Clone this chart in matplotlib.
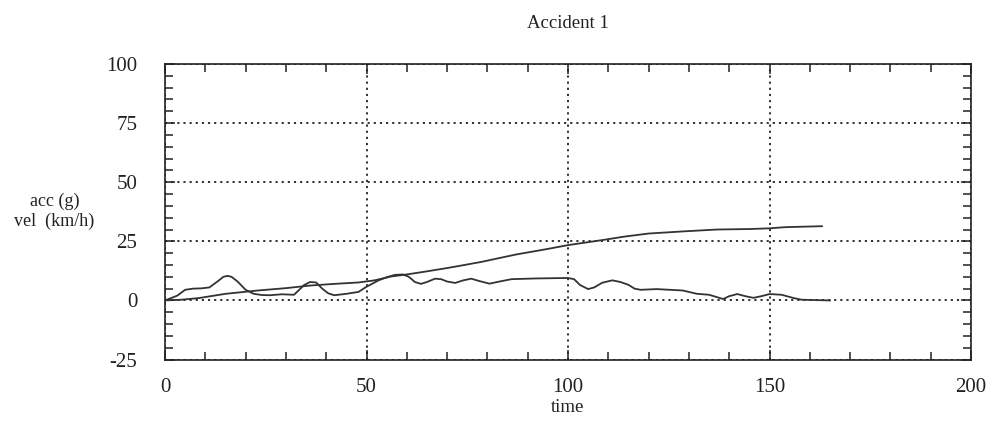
import matplotlib
matplotlib.use("Agg")
import matplotlib.pyplot as plt
from matplotlib.ticker import MultipleLocator

# values
acc_t = [0, 3, 5, 7, 9, 11, 13, 14.5, 15.5, 16.5, 18, 20, 22, 24, 26, 29, 32, 33, 34.5,
         36, 37.5, 39, 40.5, 42, 45, 48, 50, 53, 55, 57, 59, 60.5, 62, 63.5, 65, 67,
         68.5, 70, 72, 74, 76, 78, 80.5, 83, 86, 92, 100, 101.5, 103, 105, 106.5, 108.5,
         111, 113, 115, 116.5, 118, 122, 128.5, 132, 135, 138.5, 140, 142, 144, 146,
         148, 150, 153, 156, 158, 165]
acc_g = [0, 2, 4.5, 5, 5.1, 5.5, 8, 10, 10.4, 10, 8, 4.5, 2.8, 2.3, 2.2, 2.6, 2.4, 4,
         6.5, 7.8, 7.6, 5, 3, 2.2, 2.8, 3.6, 5.8, 8.5, 9.8, 10.8, 11, 10, 7.8, 7, 7.8,
         9.2, 9, 8, 7.4, 8.5, 9.2, 8.2, 7.1, 8, 9, 9.3, 9.5, 9, 6.5, 4.8, 5.5, 7.5, 8.5,
         7.8, 6.6, 5, 4.5, 4.8, 4.2, 2.8, 2.4, 0.6, 1.8, 2.7, 1.8, 1.1, 1.8, 2.7, 2.4,
         1, 0.3, 0]

vel_t = [0, 4, 8.4, 15, 23, 30, 36, 42, 48, 52, 56, 60, 64.6, 70, 73, 78.5, 87, 95, 100,
         108, 114, 120, 128.6, 137, 145, 150, 154, 163]
vel_kmh = [0, 0.3, 1, 2.8, 4.2, 5.2, 6.3, 7, 7.6, 8.5, 10.1, 11, 12.2, 13.7, 14.6, 16.3,
           19.4, 21.8, 23.4, 25.4, 27, 28.3, 29.2, 30, 30.2, 30.5, 31, 31.4]

x_ticks = [0, 50, 100, 150, 200]
y_ticks = [-25, 0, 25, 50, 75, 100]

plt.rcParams['font.family'] = ['Liberation Serif', 'DejaVu Serif']
plt.rcParams['axes.unicode_minus'] = False

fig = plt.figure(figsize=(9.87, 4.23), dpi=100)
ax = fig.add_axes([0.1672, 0.150, 0.8166, 0.6987])

ax.plot(vel_t, vel_kmh, color='#333333', linewidth=1.3)
ax.plot(acc_t, acc_g, color='#333333', linewidth=1.3)

ax.set_xlim(0, 200)
ax.set_ylim(-25, 100)
ax.set_xticks(x_ticks)
ax.set_yticks(y_ticks)
ax.xaxis.set_minor_locator(MultipleLocator(10))
ax.yaxis.set_minor_locator(MultipleLocator(5))

ax.tick_params(which='both', direction='in', top=True, right=True, width=1.1,
               colors='#222222')
ax.tick_params(which='major', length=7, labelsize=15)
ax.tick_params(axis='x', which='major', pad=13)
ax.tick_params(axis='y', which='major', pad=20)
ax.tick_params(which='minor', length=6)

for s in ax.spines.values():
    s.set_linewidth(1.2)
    s.set_color('#222222')

ax.grid(True, which='major', linestyle=(0, (1.2, 2.2)), color='#222222', linewidth=1.3)

ax.set_title('Accident 1', fontsize=13.5, pad=26, color='#222222')
ax.set_xlabel('time', fontsize=13.5, labelpad=2, color='#222222')
ax.set_ylabel('acc (g)\nvel  (km/h)', fontsize=13, rotation=0, ha='center', va='center',
              multialignment='center', color='#222222')
ax.yaxis.set_label_coords(-0.137, 0.5)

fig.savefig('out.png', dpi=100)
